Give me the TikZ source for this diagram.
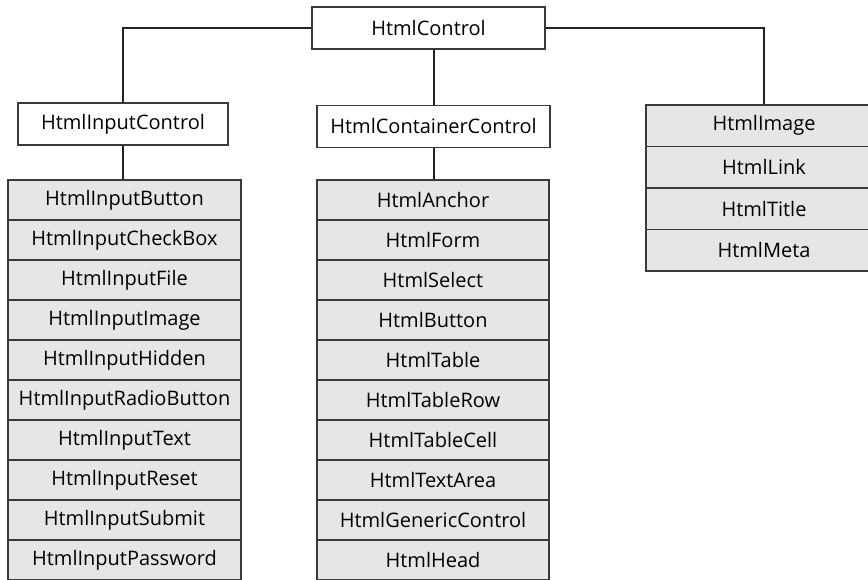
\documentclass[tikz,border=0pt]{standalone}
\usepackage{fontspec}
\setmainfont{Open Sans}
\definecolor{boxline}{HTML}{3A3A3A}
\definecolor{rowfill}{HTML}{E6E6E7}
\definecolor{linkcol}{HTML}{222222}
\begin{document}
\begin{tikzpicture}[x=1pt,y=-1pt,
  plain/.style={draw=boxline,line width=1.3pt,fill=white,minimum height=42,inner sep=0pt,font=\fontsize{20}{23}\selectfont},
  row/.style={draw=boxline,line width=1.3pt,fill=rowfill,minimum height=40,inner sep=0pt,font=\fontsize{20}{23}\selectfont},
  link/.style={draw=linkcol,line width=2pt}]
\clip (0,0) rectangle (868,580);
\node[plain,minimum width=233] (ctrl) at (428.5,28) {HtmlControl};
\node[plain,minimum width=210] (inctl) at (123,124) {HtmlInputControl};
\node[plain,minimum width=233] (cont) at (433.5,126.5) {HtmlContainerControl};
\foreach \t [count=\i] in {HtmlInputButton,HtmlInputCheckBox,HtmlInputFile,HtmlInputImage,HtmlInputHidden,HtmlInputRadioButton,HtmlInputText,HtmlInputReset,HtmlInputSubmit,HtmlInputPassword}{
\node[row,minimum width=233] (in\i) at (124.5,160+40*\i) {\t};}
\foreach \t [count=\i] in {HtmlAnchor,HtmlForm,HtmlSelect,HtmlButton,HtmlTable,HtmlTableRow,HtmlTableCell,HtmlTextArea,HtmlGenericControl,HtmlHead}{
\node[row,minimum width=232] (c\i) at (433,160+40*\i) {\t};}
\foreach \t [count=\i] in {HtmlImage,HtmlLink,HtmlTitle,HtmlMeta}{
\node[row,minimum width=236,minimum height=41.5] (r\i) at (764,84.25+41.5*\i) {\t};}
\draw[link] (ctrl.west) -| (inctl.north);
\draw[link] (ctrl.east) -| (r1.north);
\draw[link] (ctrl.south -| cont.north) -- (cont.north);
\draw[link] (inctl.south) -- (inctl.south |- in1.north);
\draw[link] (cont.south) -- (cont.south |- c1.north);
\end{tikzpicture}
\end{document}
